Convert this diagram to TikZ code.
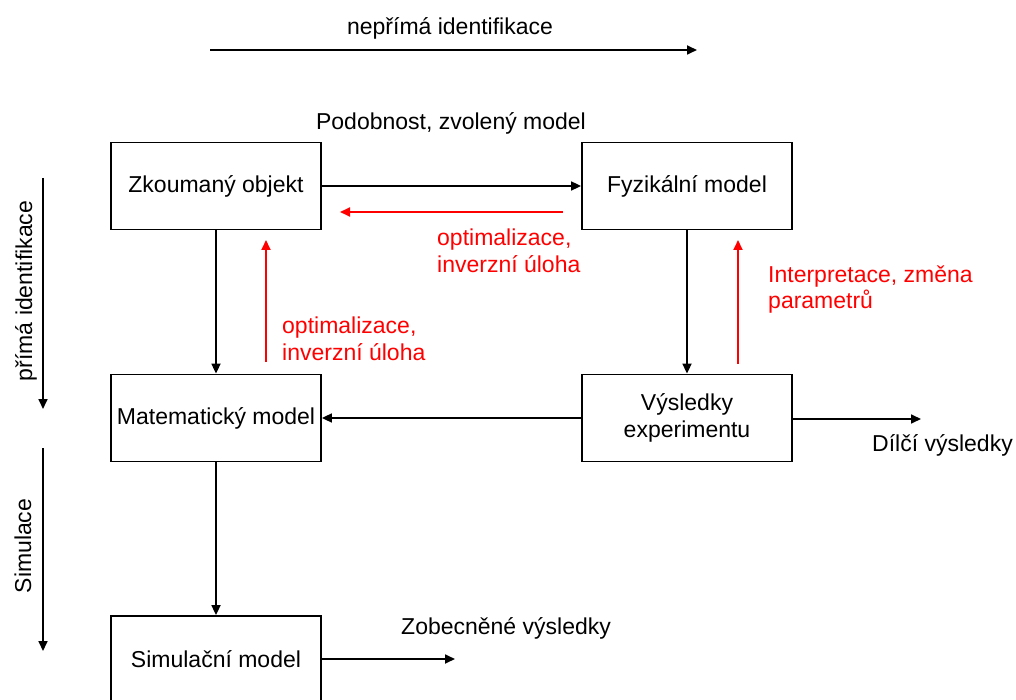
\documentclass[tikz,border=0pt]{standalone}
\usepackage{fontspec}
\setmainfont{Liberation Sans}
\usetikzlibrary{arrows.meta}
\definecolor{redline}{RGB}{255,0,0}
\tikzset{
  every node/.style={font=\fontsize{23}{26.5}\selectfont, inner sep=0pt},
  box/.style={draw, line width=1.8pt, minimum width=210pt, minimum height=87pt, align=center},
  conn/.style={line width=1.7pt, -{Triangle[length=10pt,width=9pt]}},
  redconn/.style={line width=1.8pt, draw=redline, -{Triangle[length=10pt,width=9pt]}},
  lbl/.style={anchor=west, align=left},
  redlbl/.style={anchor=west, align=left, text=redline},
}
\begin{document}
\begin{tikzpicture}[x=1pt,y=-1pt]
\useasboundingbox (0,0) rectangle (1016,700);
\clip (0,0) rectangle (1016,700);
% boxes
\node[box] (zk)  at (216,186) {Zkoumaný objekt};
\node[box] (fyz) at (687,186) {Fyzikální model};
\node[box] (mat) at (216,418) {Matematický model};
\node[box] (vys) at (687,418) {Výsledky\\experimentu};
\node[box] (sim) at (216,659.5) {Simulační model};
% black connectors
\draw[conn] (zk) -- (fyz);
\draw[conn] (zk) -- (mat);
\draw[conn] (fyz) -- (vys);
\draw[conn] (vys) -- (mat);
\draw[conn] (mat) -- (sim);
\coordinate (dilciend) at (921,419);
\draw[conn] (vys.east |- dilciend) -- (dilciend);
\coordinate (zobend) at (455,659);
\draw[conn] (sim.east |- zobend) -- (zobend);
% red connectors
\coordinate (r1s) at (563,212);
\coordinate (r1e) at (340,212);
\draw[redconn] (r1s) -- (r1e);
\coordinate (r2s) at (266,362);
\coordinate (r2e) at (266,240);
\draw[redconn] (r2s) -- (r2e);
\coordinate (r3s) at (738,364);
\coordinate (r3e) at (738,240);
\draw[redconn] (r3s) -- (r3e);
% top and side arrows
\coordinate (t1) at (210,50);
\coordinate (t2) at (697,50);
\draw[conn] (t1) -- (t2);
\coordinate (s1) at (43,178);
\coordinate (s2) at (43,409);
\draw[conn] (s1) -- (s2);
\coordinate (s3) at (43,448);
\coordinate (s4) at (43,651);
\draw[conn] (s3) -- (s4);
% labels
\node (nepr) at (450,28) {nepřímá identifikace};
\node (podob) at (451,123) {Podobnost, zvolený model};
\node[redlbl] (opt1) at (437,251) {optimalizace,\\inverzní úloha};
\node[redlbl] (opt2) at (282,339) {optimalizace,\\inverzní úloha};
\node[redlbl] (interp) at (768,289.5) {Interpretace, změna\\parametrů};
\node[lbl] (dilci) at (872,445) {Dílčí výsledky};
\node[lbl] (zob) at (401,628) {Zobecněné výsledky};
\node[rotate=90] (prima) at (26,291) {přímá identifikace};
\node[rotate=90] (simul) at (23,546) {Simulace};
\end{tikzpicture}
\end{document}
